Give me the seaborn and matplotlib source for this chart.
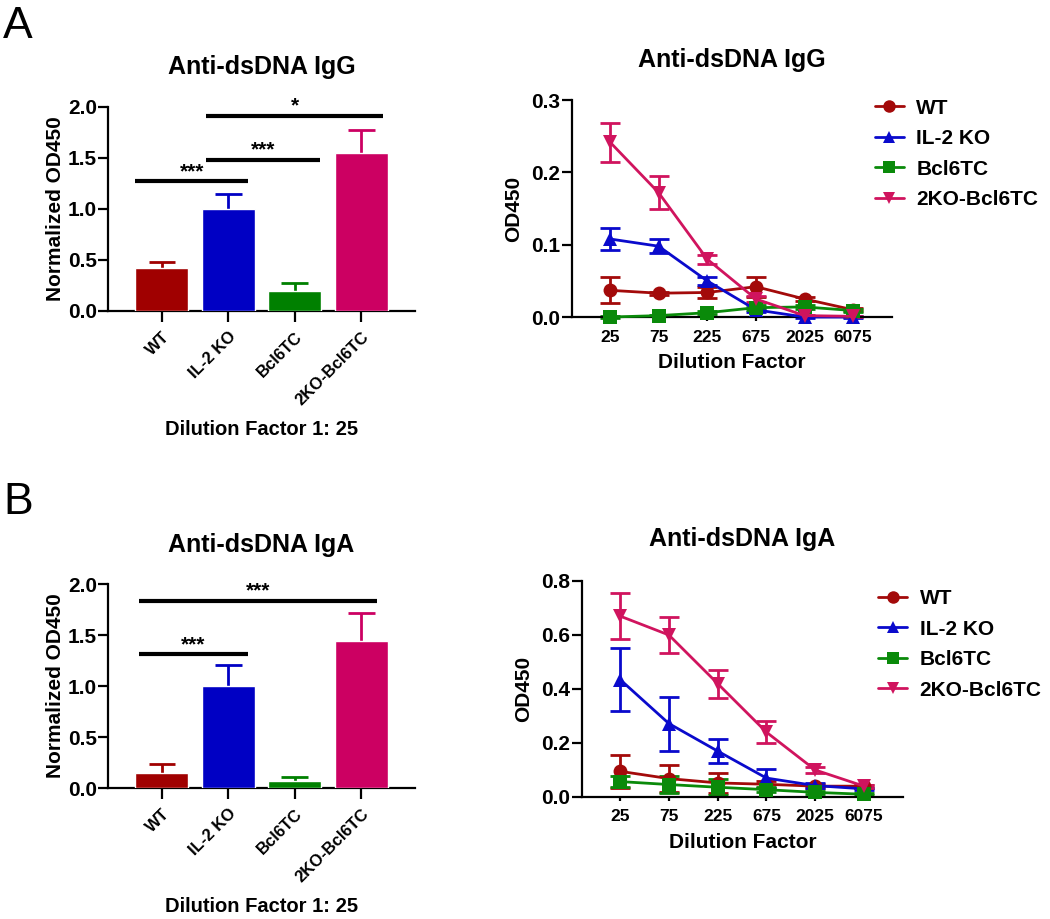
import matplotlib
matplotlib.use("Agg")
import matplotlib.pyplot as plt
import numpy as np
import pandas as pd
import seaborn as sns

groups = ["WT", "IL-2 KO", "Bcl6TC", "2KO-Bcl6TC"]
bar_colors = ["#A00000", "#0000C4", "#008000", "#CC0062"]
line_colors = ["#A30A0A", "#0A0ACC", "#0A8A0A", "#D0145E"]
markers = ["o", "^", "s", "v"]
dilutions = ["25", "75", "225", "675", "2025", "6075"]

# normalized OD450 at 1:25, mean and upper error
igg_norm = [0.42, 1.00, 0.20, 1.55]
igg_norm_err = [0.065, 0.15, 0.07, 0.22]
iga_norm = [0.15, 1.00, 0.065, 1.44]
iga_norm_err = [0.09, 0.21, 0.04, 0.28]

# dilution series, mean and error
igg_wt = [0.037, 0.033, 0.034, 0.042, 0.025, 0.010]
igg_wt_err = [0.018, 0.002, 0.007, 0.014, 0.003, 0.002]
igg_il2 = [0.108, 0.098, 0.050, 0.010, 0.000, 0.000]
igg_il2_err = [0.015, 0.010, 0.006, 0.003, 0.001, 0.001]
igg_bcl = [0.000, 0.002, 0.006, 0.013, 0.014, 0.009]
igg_bcl_err = [0.001, 0.001, 0.002, 0.003, 0.003, 0.002]
igg_2ko = [0.242, 0.172, 0.080, 0.025, 0.002, 0.001]
igg_2ko_err = [0.027, 0.023, 0.006, 0.004, 0.001, 0.001]

iga_wt = [0.095, 0.068, 0.052, 0.047, 0.040, 0.040]
iga_wt_err = [0.060, 0.050, 0.038, 0.012, 0.008, 0.005]
iga_il2 = [0.435, 0.272, 0.170, 0.070, 0.042, 0.030]
iga_il2_err = [0.118, 0.100, 0.044, 0.035, 0.008, 0.005]
iga_bcl = [0.057, 0.046, 0.036, 0.027, 0.017, 0.010]
iga_bcl_err = [0.020, 0.030, 0.030, 0.010, 0.005, 0.003]
iga_2ko = [0.670, 0.600, 0.420, 0.240, 0.100, 0.040]
iga_2ko_err = [0.085, 0.065, 0.052, 0.040, 0.012, 0.006]

# significance brackets: (line start, line end, y, stars)
igg_sig = [(-0.4, 1.3, 1.27, "***"), (0.67, 2.38, 1.48, "***"),
           (0.67, 3.33, 1.91, "*")]
iga_sig = [(-0.35, 1.3, 1.31, "***"), (-0.35, 3.24, 1.83, "***")]

sns.set_theme(style="ticks")
plt.rcParams["font.family"] = ["Liberation Sans", "DejaVu Sans"]
plt.rcParams["font.weight"] = "bold"
plt.rcParams["axes.labelweight"] = "bold"
plt.rcParams["axes.titleweight"] = "bold"
plt.rcParams["axes.linewidth"] = 1.6
plt.rcParams["axes.edgecolor"] = "black"
plt.rcParams["axes.labelcolor"] = "black"
plt.rcParams["text.color"] = "black"
plt.rcParams["xtick.major.width"] = 1.6
plt.rcParams["ytick.major.width"] = 1.6
plt.rcParams["xtick.color"] = "black"
plt.rcParams["ytick.color"] = "black"

fig = plt.figure(figsize=(10.5, 9.19), dpi=100)


def bar_panel(rect, title, vals, errs, sig, pad):
    ax = fig.add_axes(rect)
    df = pd.DataFrame({"group": groups, "od": vals})
    sns.barplot(data=df, x="group", y="od", hue="group", palette=bar_colors,
                legend=False, width=0.8, ax=ax, saturation=1, zorder=3)
    # upper error only: stem plus a single cap
    for i, (v, e) in enumerate(zip(vals, errs)):
        ax.errorbar(i, v + e, yerr=[[e], [0]], fmt="none",
                    ecolor=bar_colors[i], elinewidth=2, capsize=0, zorder=2)
        ax.errorbar(i, v + e, xerr=0.2, fmt="none", ecolor=bar_colors[i],
                    elinewidth=2, capsize=0, zorder=2)
    for x0, x1, y, stars in sig:
        ax.plot([x0, x1], [y, y], color="black", lw=3,
                solid_capstyle="butt", clip_on=False)
        ax.text((x0 + x1) / 2, y + 0.005, stars, ha="center", va="bottom",
                fontsize=15)
    ax.set_xlim(-0.81, 3.81)
    ax.set_ylim(0, 2.0)
    ax.set_yticks([0, 0.5, 1.0, 1.5, 2.0])
    ax.set_yticklabels(["0.0", "0.5", "1.0", "1.5", "2.0"])
    ax.set_xticks(range(4))
    ax.set_xticklabels(groups, rotation=45, ha="right", rotation_mode="anchor")
    ax.tick_params(axis="y", labelsize=15, length=7, pad=1)
    ax.tick_params(axis="x", labelsize=12, length=8, pad=5)
    ax.set_ylabel("Normalized OD450", fontsize=15, labelpad=2)
    ax.set_xlabel("Dilution Factor 1: 25", fontsize=14.5, labelpad=9)
    ax.set_title(title, fontsize=18, pad=pad)
    sns.despine(ax=ax)
    return ax


def line_panel(rect, title, series, ymax, yticks, pad, leg_xy):
    ax = fig.add_axes(rect)
    rows = []
    for g, (m, e) in zip(groups, series):
        for i, d in enumerate(dilutions):
            rows.append({"group": g, "pos": i, "od": m[i], "err": e[i]})
    df = pd.DataFrame(rows)
    sns.lineplot(data=df, x="pos", y="od", hue="group", style="group",
                 palette=line_colors, markers=markers, dashes=False,
                 markersize=10, markeredgewidth=0, linewidth=2, ax=ax,
                 clip_on=False, zorder=3)
    for k, g in enumerate(groups):
        sub = df[df["group"] == g]
        ax.errorbar(sub["pos"], sub["od"], yerr=sub["err"], fmt="none",
                    ecolor=line_colors[k], elinewidth=2, capsize=7,
                    capthick=2, clip_on=False, zorder=2)
    ax.set_xlim(-0.78, 5.8)
    ax.set_ylim(0, ymax)
    ax.set_yticks(yticks)
    ax.set_yticklabels([f"{t:.1f}" for t in yticks])
    ax.set_xticks(range(len(dilutions)))
    ax.set_xticklabels(dilutions)
    ax.tick_params(axis="y", labelsize=15, length=7, pad=1.5)
    ax.tick_params(axis="x", labelsize=12.5, length=3, pad=6)
    ax.set_ylabel("OD450", fontsize=15, labelpad=6)
    ax.set_xlabel("Dilution Factor", fontsize=15, labelpad=6)
    ax.set_title(title, fontsize=18, pad=pad)
    leg = ax.legend(loc="upper left", bbox_to_anchor=leg_xy,
                    frameon=False, fontsize=15, handlelength=1.4,
                    handletextpad=0.6, labelspacing=0.55, borderaxespad=0)
    for h in leg.legend_handles:
        h.set_markersize(9)
    sns.despine(ax=ax)
    return ax


bar_panel([0.1029, 0.6616, 0.2924, 0.222], "Anti-dsDNA IgG",
          igg_norm, igg_norm_err, igg_sig, 24)
bar_panel([0.1029, 0.1425, 0.2924, 0.222], "Anti-dsDNA IgA",
          iga_norm, iga_norm_err, iga_sig, 23)

line_panel([0.5448, 0.655, 0.3048, 0.236], "Anti-dsDNA IgG",
           [(igg_wt, igg_wt_err), (igg_il2, igg_il2_err),
            (igg_bcl, igg_bcl_err), (igg_2ko, igg_2ko_err)],
           0.3, [0, 0.1, 0.2, 0.3], 24, (0.92, 1.045))
line_panel([0.5543, 0.1328, 0.3057, 0.235], "Anti-dsDNA IgA",
           [(iga_wt, iga_wt_err), (iga_il2, iga_il2_err),
            (iga_bcl, iga_bcl_err), (iga_2ko, iga_2ko_err)],
           0.8, [0, 0.2, 0.4, 0.6, 0.8], 25, (0.896, 1.0))

fig.text(0.003, 0.993, "A", fontsize=32, fontweight="normal", va="top")
fig.text(0.003, 0.475, "B", fontsize=32, fontweight="normal", va="top")

fig.savefig("out.png", dpi=100)
